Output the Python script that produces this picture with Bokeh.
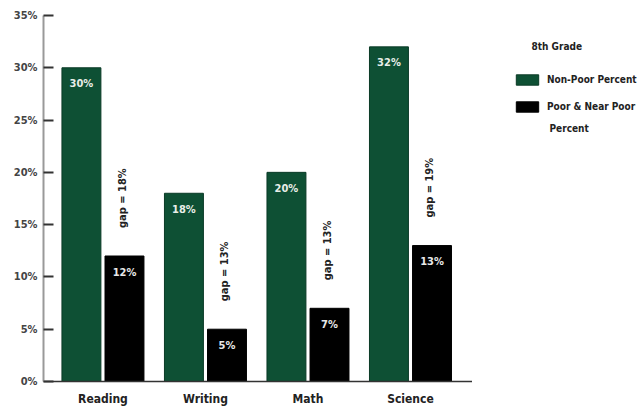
import math
from bokeh.plotting import figure
from bokeh.layouts import row
from bokeh.models import (ColumnDataSource, FixedTicker, Legend, LegendItem,
                          Range1d, Label)
from bokeh.transform import dodge
from bokeh.core.properties import value
from bokeh.embed import file_html
from bokeh.resources import INLINE

categories = ["Reading", "Writing", "Math", "Science"]
non_poor = [30, 18, 20, 32]
poor = [12, 5, 7, 13]
gap_labels = ["gap = 18%", "gap = 13%", "gap = 13%", "gap = 19%"]
y_ticks = [0, 5, 10, 15, 20, 25, 30, 35]
legend_title = "8th Grade"
series_names = ["Non-Poor Percent", "Poor & Near Poor", "Percent"]

GREEN = "#0e5034"
FONT = "DejaVu Sans Condensed, Liberation Sans Narrow, DejaVu Sans, sans-serif"

src = ColumnDataSource(dict(
    x=list(range(len(categories))),
    non_poor=non_poor,
    poor=poor,
    np_lbl=[f"{v}%" for v in non_poor],
    p_lbl=[f"{v}%" for v in poor],
    gap=gap_labels,
))

p = figure(width=472, height=408, output_backend="svg", toolbar_location=None,
           x_range=Range1d(-0.58, 3.605), y_range=Range1d(0, 35),
           min_border_left=43, min_border_right=0, min_border_top=15,
           min_border_bottom=23)
p.outline_line_color = None
p.grid.grid_line_color = None

r1 = p.vbar(x=dodge("x", -0.21), top="non_poor", width=0.38, source=src,
            fill_color=GREEN, line_color="#0a3a26", line_width=1)
r2 = p.vbar(x=dodge("x", 0.21), top="poor", width=0.38, source=src,
            fill_color="black", line_color="black", line_width=1)

# value labels inside bars
p.text(x=dodge("x", -0.21), y="non_poor", text="np_lbl", source=src,
       text_color="#e8eee8", text_font=value(FONT), text_font_style="bold",
       text_font_size="11px", text_align="center", text_baseline="middle",
       y_offset=16)
p.text(x=dodge("x", 0.21), y="poor", text="p_lbl", source=src,
       text_color="#e8e8e8", text_font=value(FONT), text_font_style="bold",
       text_font_size="11px", text_align="center", text_baseline="middle",
       y_offset=16)
# gap labels (rotated)
p.text(x=dodge("x", 0.19), y="poor", text="gap", source=src,
       angle=math.pi / 2, text_color="#222222", text_font=value(FONT),
       text_font_style="bold", text_font_size="11px", text_align="left",
       text_baseline="middle", y_offset=-28)

# axes
p.xaxis.ticker = FixedTicker(ticks=list(range(len(categories))))
p.xaxis.major_label_overrides = {i: c for i, c in enumerate(categories)}
p.xaxis.major_tick_line_color = None
p.xaxis.minor_tick_line_color = None
p.xaxis.axis_line_color = "#333333"
p.xaxis.axis_line_width = 1.5
p.xaxis.major_label_text_font = FONT
p.xaxis.major_label_text_font_style = "bold"
p.xaxis.major_label_text_font_size = "12px"
p.xaxis.major_label_text_color = "#222222"
p.xaxis.major_label_standoff = 4

p.yaxis.ticker = FixedTicker(ticks=y_ticks)
p.yaxis.major_label_overrides = {t: f"{t}%" for t in y_ticks}
p.yaxis.major_tick_in = 10
p.yaxis.major_tick_out = 0
p.yaxis.minor_tick_line_color = None
p.yaxis.major_tick_line_color = "#333333"
p.yaxis.major_tick_line_width = 2
p.yaxis.axis_line_color = "#999999"
p.yaxis.axis_line_width = 2
p.yaxis.major_label_text_font = FONT
p.yaxis.major_label_text_font_style = "bold"
p.yaxis.major_label_text_font_size = "11px"
p.yaxis.major_label_text_color = "#444444"
p.yaxis.major_label_standoff = 6

# legend panel
q = figure(width=169, height=408, output_backend="svg", toolbar_location=None,
           x_range=Range1d(0, 1), y_range=Range1d(0, 1),
           x_axis_location=None, y_axis_location=None,
           min_border_left=0, min_border_right=0, min_border_top=0,
           min_border_bottom=0)
q.grid.grid_line_color = None
q.outline_line_color = None
nan = float("nan")
d1 = q.vbar(x=[nan], top=[nan], width=0.1, fill_color=GREEN,
            line_color="#0a3a26")
d2 = q.vbar(x=[nan], top=[nan], width=0.1, fill_color="black",
            line_color="black")

legend = Legend(items=[LegendItem(label=series_names[0], renderers=[d1]),
                       LegendItem(label=series_names[1], renderers=[d2])],
                location=(41, 268), border_line_color=None,
                background_fill_alpha=0, glyph_width=28, glyph_height=13,
                label_standoff=6, spacing=14, padding=2, margin=0,
                label_text_font=FONT, label_text_font_style="bold",
                label_text_font_size="10px", label_text_color="#222222",
                label_height=13)
q.add_layout(legend, "center")

q.add_layout(Label(x=59, y=335, x_units="screen", y_units="screen",
                   text=legend_title, text_font=FONT, text_font_style="bold",
                   text_font_size="10px", text_color="#222222",
                   text_baseline="middle"))
q.add_layout(Label(x=77, y=253, x_units="screen", y_units="screen",
                   text=series_names[2], text_font=FONT,
                   text_font_style="bold", text_font_size="10px",
                   text_color="#222222", text_baseline="middle"))

layout = row(p, q, spacing=0)
html = file_html(layout, INLINE)
open("out.html", "w").write(html)
